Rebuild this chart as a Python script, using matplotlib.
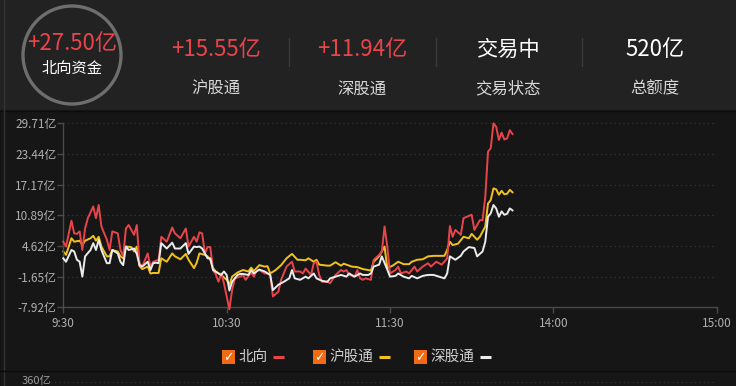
import matplotlib
matplotlib.use("Agg")
import matplotlib.pyplot as plt
from matplotlib.patches import Circle, Rectangle

plt.rcParams['font.family'] = ['Noto Sans CJK SC', 'DejaVu Sans']

# trading minutes after 9:30 (lunch break removed) and net inflow in 亿
north_t = [0, 1, 3, 4, 5, 6, 7, 8, 9, 11, 12, 13, 14, 16, 17, 18, 20, 21, 22, 23, 24, 26, 27, 28, 29,
           31, 32, 33, 35, 36, 38, 40, 41, 43, 45, 46, 48, 49, 50, 51, 52, 53, 54, 55, 56, 57, 58, 59,
           61, 62, 63, 65, 66, 67, 69, 70, 71, 72, 74, 75, 76, 77, 79, 80, 82, 84, 85, 87, 88, 89, 91,
           92, 93, 94, 95, 97, 98, 100, 102, 103, 104, 105, 107, 108, 109, 110, 111, 113, 114, 116,
           117, 118, 119, 120, 122, 123, 124, 126, 127, 129, 130, 132, 134, 135, 137, 139, 141, 142,
           143, 144, 146, 147, 149, 150, 151, 153, 154, 155, 156, 157, 158, 159, 160, 161, 162, 163,
           164, 165]
north_v = [5.5, 4.5, 9.8, 7.2, 7.1, 7.6, 3.8, 8.2, 10.3, 12.7, 10.3, 13.0, 8.6, 5.9, 3.8, 7.6, 7.2,
           3.8, 2.5, 8.2, 8.9, 6.9, 8.9, 1.1, 0.4, 3.1, 0.4, 1.4, 1.8, 6.5, 5.5, 8.4, 7.2, 6.2, 8.2,
           4.5, 6.5, 5.5, 7.4, 7.2, 3.1, 4.4, 4.4, -0.3, -1.2, -2.7, -1.0, -3.0, -8.3, -4.4, -2.0,
           -1.65, -1.3, -2.3, -0.8, -1.65, -0.3, -0.3, -1.0, -1.0, -1.3, -5.7, -4.7, -2.3, 0.4, 1.4,
           -0.6, -0.6, -1.0, 0.0, -1.3, 1.1, 1.4, -1.3, -2.7, -2.7, -3.0, -1.3, -0.3, -0.6, -0.3,
           -1.3, -1.65, -0.3, -2.0, -2.3, -2.0, -2.3, 1.8, 2.8, 3.5, 8.6, 4.5, -1.0, -0.3, 0.4,
           -1.0, -0.6, -1.0, 0.4, -0.6, 0.4, 1.1, 0.4, 1.4, 0.8, 2.1, 8.7, 6.5, 7.9, 6.9, 10.3,
           10.8, 11.0, 7.9, 9.9, 9.9, 14.7, 23.9, 24.6, 29.7, 29.0, 26.3, 27.8, 26.4, 26.6, 28.3,
           27.5]

sh_t = [0, 1, 3, 4, 6, 7, 8, 10, 11, 12, 13, 14, 16, 17, 18, 20, 21, 22, 23, 25, 26, 27, 28, 29,
        31, 32, 33, 35, 36, 38, 40, 41, 43, 45, 46, 48, 49, 50, 52, 53, 54, 55, 56, 58, 60, 61, 62,
        64, 66, 68, 69, 70, 72, 74, 75, 76, 78, 80, 82, 84, 86, 87, 89, 90, 92, 93, 94, 97, 98, 100,
        102, 103, 105, 106, 108, 110, 112, 113, 114, 116, 117, 118, 119, 121, 123, 125, 127, 128,
        130, 132, 134, 136, 138, 140, 141, 142, 143, 145, 147, 149, 150, 152, 153, 155, 156, 157,
        158, 159, 160, 161, 162, 163, 164, 165]
sh_v = [3.5, 2.8, 6.2, 5.5, 5.7, 4.8, 5.7, 6.2, 6.7, 5.7, 6.5, 4.5, 2.5, 2.5, 3.8, 3.5, 2.5, 2.1,
        4.5, 4.4, 3.5, 4.5, 0.5, -0.1, 0.4, -1.0, -0.9, -0.9, 2.1, 1.4, 3.1, 2.5, 1.9, 3.0, 1.8,
        0.1, 1.2, 3.1, 2.8, 2.5, 1.8, 0.1, -0.6, -1.3, -2.3, -3.3, -1.65, -0.8, -0.3, -0.6, 0.2,
        -0.5, 0.7, 0.4, 0.5, -1.0, -0.3, 0.7, 2.1, 3.0, 1.8, 1.8, 1.7, 2.1, 1.4, 1.8, 0.8, 0.6,
        0.6, 1.3, 0.6, 1.0, 0.6, 0.4, 0.3, -0.1, -0.3, -0.4, 1.4, 2.5, 3.5, 4.5, 0.1, 0.6, 1.4,
        0.9, 0.9, 1.4, 1.8, 1.9, 2.5, 2.6, 2.6, 2.6, 3.8, 5.5, 4.8, 5.1, 6.5, 6.2, 7.1, 5.9, 6.5,
        8.6, 13.3, 14.0, 16.4, 16.2, 15.1, 15.9, 15.2, 15.3, 16.1, 15.6]

sz_t = [0, 1, 3, 4, 5, 6, 7, 8, 10, 11, 12, 13, 14, 16, 17, 18, 20, 21, 22, 23, 24, 26, 27, 28, 29,
        31, 32, 33, 34, 35, 36, 38, 40, 41, 43, 45, 46, 48, 49, 50, 51, 53, 54, 55, 57, 58, 59, 60,
        61, 62, 64, 65, 66, 68, 69, 70, 72, 74, 76, 77, 79, 81, 83, 84, 85, 87, 89, 90, 92, 93, 95,
        97, 98, 100, 102, 104, 105, 107, 109, 110, 112, 113, 114, 116, 117, 119, 120, 122, 123, 125,
        127, 128, 130, 132, 134, 136, 138, 140, 141, 142, 144, 146, 147, 149, 151, 152, 154, 155,
        156, 157, 158, 159, 160, 161, 162, 163, 164, 165]
sz_v = [2.1, 1.4, 3.8, 3.5, 1.8, 1.4, -1.65, 2.5, 3.8, 5.2, 3.8, 5.9, 3.8, 1.1, 1.1, 3.8, 3.1, 1.4,
        0.7, 4.5, 3.8, 4.1, 3.0, 0.7, 0.4, 1.4, -0.3, 1.1, 1.2, 1.1, 5.2, 4.1, 5.3, 4.1, 4.1, 5.2,
        3.0, 4.5, 4.4, 4.5, 4.1, 2.1, 2.1, -0.3, -1.0, -1.3, -0.6, -1.3, -4.5, -2.7, -1.3, -1.1,
        -1.1, -1.3, -0.3, -1.0, -0.2, -0.6, -1.3, -4.4, -3.3, -2.7, -2.0, -0.3, -2.0, -2.3, -1.65,
        -2.0, -1.0, -2.0, -2.5, -2.7, -2.0, -1.65, -1.3, -1.65, -1.0, -1.65, -1.0, -1.3, -1.3, -1.0,
        0.4, 0.8, 2.5, -0.2, -1.65, -1.5, -1.0, -1.65, -2.0, -1.5, -2.0, -1.5, -1.3, -1.3, -1.65,
        -2.0, -1.0, 2.5, 1.8, 2.6, 3.5, 4.4, 4.2, 2.5, 3.5, 5.5, 10.6, 11.3, 13.0, 12.3, 10.6, 11.7,
        11.0, 11.2, 12.3, 11.9]

y_ticks = [-7.92, -1.65, 4.62, 10.89, 17.17, 23.44, 29.71]
x_ticks = [0, 60, 120, 180, 240]
x_labels = ['9:30', '10:30', '11:30', '14:00', '15:00']

header_values = ['+15.55亿', '+11.94亿', '交易中', '520亿']
header_names = ['沪股通', '深股通', '交易状态', '总额度']
series_names = ['北向', '沪股通', '深股通']

RED = '#e8454b'
YELLOW = '#f2c21b'
WHITE = '#ececec'
W, H = 736, 386

fig = plt.figure(figsize=(W / 100, H / 100), dpi=100, facecolor='#161616')

# overlay in pixel coordinates for the header, legend and frame
ov = fig.add_axes([0, 0, 1, 1], zorder=0)
ov.set_xlim(0, W)
ov.set_ylim(H, 0)
ov.axis('off')
ov.add_patch(Rectangle((0, 0), W, 110, color='#222222', lw=0))
ov.plot([0, W], [110.5, 110.5], color='#0d0d0d', lw=1)
ov.plot([3.5, 3.5], [0, H], color='#333333', lw=1)
ov.plot([0, W], [370.5, 370.5], color='#0b0b0b', lw=1)
ov.text(22, 381, '360亿', color='#9a9a9a', fontsize=8, ha='left', va='center')
ov.plot([50, 716], [382, 382], color='#333333', lw=0.8, ls=(0, (1, 3)))

ov.add_patch(Circle((72, 55), 49, fill=False, ec='#6e6e6e', lw=2.4))
ov.text(72, 43, '+27.50亿', color=RED, fontsize=16, ha='center', va='center')
ov.text(72, 69, '北向资金', color='white', fontsize=11, ha='center', va='center')

centers = [216, 362, 508, 655]
for i, cx in enumerate(centers):
    col = RED if header_values[i].startswith('+') else 'white'
    size = 15.3 if header_values[i] == '交易中' else 16
    ov.text(cx, 50, header_values[i], color=col, fontsize=size, ha='center', va='center')
    ov.text(cx, 89, header_names[i], color='#d8d8d8', fontsize=11.8, ha='center', va='center')
for sx in [289, 436, 582]:
    ov.plot([sx, sx], [38, 66], color='#3a3a3a', lw=1)

# legend row
leg_x = [222, 313, 414]
leg_colors = [RED, YELLOW, WHITE]
for lx, name, col in zip(leg_x, series_names, leg_colors):
    ov.add_patch(Rectangle((lx, 350), 13, 14, color='#f26a12', lw=0))
    ov.text(lx + 6.5, 357.5, '✓', color='white', fontsize=9, fontweight='bold',
            ha='center', va='center', family='DejaVu Sans')
    ov.text(lx + 16, 357, name, color='#d0d0d0', fontsize=10.5, ha='left', va='center')
    tw = 14.5 * len(name)
    ov.plot([lx + 16 + tw + 6, lx + 16 + tw + 17], [357, 357], color=col, lw=2.2,
            solid_capstyle='butt')

# main chart
ax = fig.add_axes([63.3 / W, 1 - 307.3 / H, (716.7 - 63.3) / W, (307.3 - 123.3) / H], zorder=1)
ax.set_facecolor('none')
ax.set_xlim(0, 240)
ax.set_ylim(-7.92, 29.71)

for yv in y_ticks[1:]:
    ax.axhline(yv, color='#3a3a3a', lw=0.8, ls=(0, (1, 3)), zorder=0)

ax.plot(north_t, north_v, color=RED, lw=1.4, clip_on=False, zorder=3)
ax.plot(sh_t, sh_v, color=YELLOW, lw=1.4, clip_on=False, zorder=2)
ax.plot(sz_t, sz_v, color=WHITE, lw=1.4, clip_on=False, zorder=4)

for side in ['top', 'right']:
    ax.spines[side].set_visible(False)
for side in ['left', 'bottom']:
    ax.spines[side].set_color('#4a4a4a')
    ax.spines[side].set_linewidth(1)

ax.set_yticks(y_ticks)
ax.set_yticklabels([f'{v:.2f}亿' for v in y_ticks])
ax.set_xticks(x_ticks)
ax.set_xticklabels(x_labels)
ax.tick_params(axis='both', colors='#4a4a4a', labelcolor='#b0b0b0', labelsize=8.5,
               length=4, width=1)
ax.tick_params(axis='y', pad=1)
ax.tick_params(axis='x', pad=3)

fig.savefig('out.png', dpi=100, facecolor=fig.get_facecolor())
